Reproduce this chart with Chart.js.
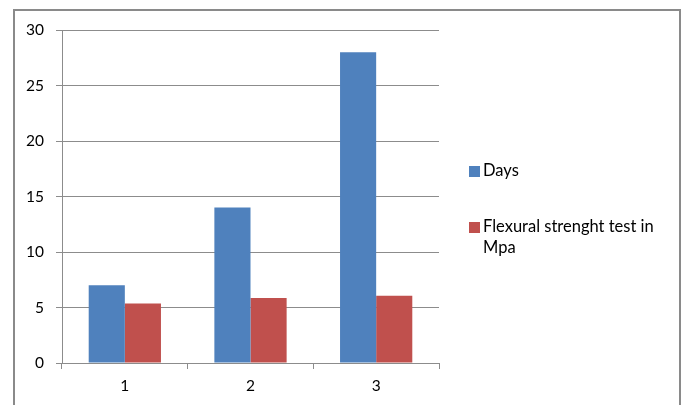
<!DOCTYPE html>
<html>
<head>
<meta charset="utf-8">
<script src="https://cdn.jsdelivr.net/npm/chart.js@4.4.0/dist/chart.umd.min.js"></script>
<style>
  html, body { margin: 0; padding: 0; background: #fff; }
  #wrap { width: 683px; height: 405px; position: relative; }
</style>
</head>
<body>
<div id="wrap"><canvas id="grafico"></canvas></div>
<script>
// dados
const categorias = ['1', '2', '3'];
const dias = [7, 14, 28];
const flexao = [5.35, 5.85, 6.05];
const nomesSeries = ['Days', 'Flexural strenght test in Mpa'];
const linhasLegenda = [['Days'], ['Flexural strenght test in', 'Mpa']];
const ticksY = [0, 5, 10, 15, 20, 25, 30];

const fonte = 'Lato';
const corGrade = '#8c8c8c';

// moldura em volta do gráfico inteiro
const moldura = {
    id: 'moldura',
    beforeDraw(chart) {
        const ctx = chart.ctx;
        ctx.save();
        ctx.strokeStyle = '#8a8a8a';
        ctx.lineWidth = 2;
        ctx.strokeRect(14, 10, 666, 410);
        ctx.restore();
    }
};

// legenda desenhada à mão para quebrar a linha
const legenda = {
    id: 'legenda',
    afterDraw(chart) {
        const ctx = chart.ctx;
        const posY = [176, 232];
        ctx.save();
        ctx.font = '16.5px ' + fonte;
        ctx.textBaseline = 'alphabetic';
        chart.data.datasets.forEach((ds, i) => {
            const y = posY[i];
            ctx.fillStyle = ds.backgroundColor;
            ctx.fillRect(469, y - 10, 11, 11);
            ctx.fillStyle = '#000';
            linhasLegenda[i].forEach((linha, j) => {
                ctx.fillText(linha, 483, y + j * 20.5);
            });
        });
        ctx.restore();
    }
};

const ctx = document.getElementById('grafico').getContext('2d');
new Chart(ctx, {
    type: 'bar',
    data: {
        labels: categorias,
        datasets: [
            { label: nomesSeries[0], data: dias, backgroundColor: '#4F81BD' },
            { label: nomesSeries[1], data: flexao, backgroundColor: '#C0504D' }
        ]
    },
    options: {
        responsive: true,
        maintainAspectRatio: false,
        animation: false,
        layout: { padding: { left: 0, top: 30, right: 244, bottom: 0 } },
        datasets: { bar: { categoryPercentage: 0.575, barPercentage: 1 } },
        plugins: {
            legend: { display: false },
            tooltip: { enabled: false }
        },
        scales: {
            x: {
                afterFit: s => { s.height = 42; },
                grid: { offset: true, drawOnChartArea: false, color: corGrade, tickLength: 6 },
                border: { color: corGrade },
                ticks: { color: '#000', font: { family: fonte, size: 15.5 }, padding: 8 }
            },
            y: {
                min: 0,
                max: 30,
                afterFit: s => { s.width = 62; },
                afterBuildTicks: s => { s.ticks = ticksY.map(v => ({ value: v })); },
                grid: { color: corGrade, tickLength: 6 },
                border: { color: corGrade },
                ticks: { color: '#000', font: { family: fonte, size: 15.5 }, padding: 12 }
            }
        }
    },
    plugins: [moldura, legenda]
});
</script>
</body>
</html>
